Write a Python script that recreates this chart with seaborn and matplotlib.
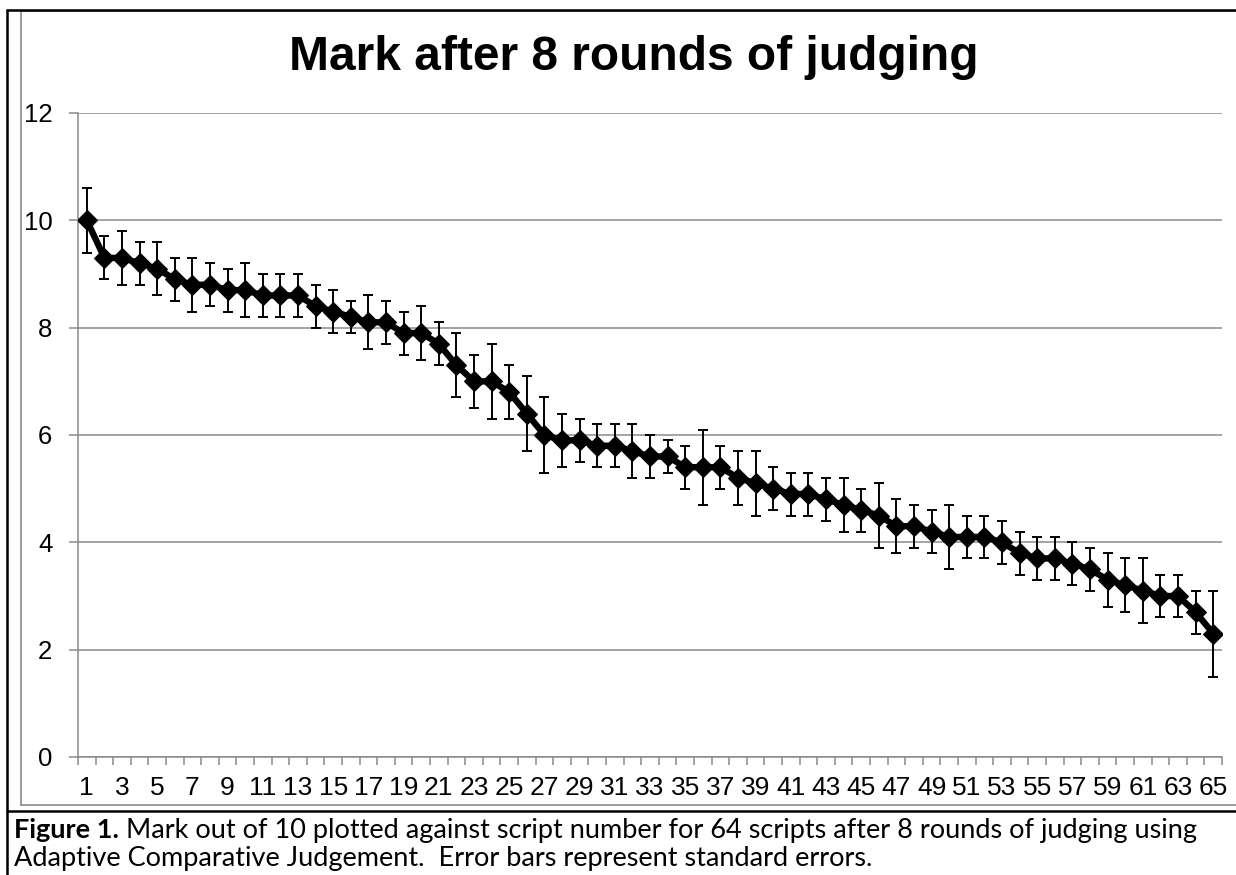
import numpy as np
import pandas as pd
import seaborn as sns
import matplotlib.pyplot as plt
from matplotlib.lines import Line2D

# script number and mark (out of 10) after 8 rounds, with standard errors
script = list(range(1, 66))
mark = [10.0, 9.3, 9.3, 9.2, 9.1, 8.9, 8.8, 8.8, 8.7, 8.7,
        8.6, 8.6, 8.6, 8.4, 8.3, 8.2, 8.1, 8.1, 7.9, 7.9,
        7.7, 7.3, 7.0, 7.0, 6.8, 6.4, 6.0, 5.9, 5.9, 5.8,
        5.8, 5.7, 5.6, 5.6, 5.4, 5.4, 5.4, 5.2, 5.1, 5.0,
        4.9, 4.9, 4.8, 4.7, 4.6, 4.5, 4.3, 4.3, 4.2, 4.1,
        4.1, 4.1, 4.0, 3.8, 3.7, 3.7, 3.6, 3.5, 3.3, 3.2,
        3.1, 3.0, 3.0, 2.7, 2.3]
se = [0.6, 0.4, 0.5, 0.4, 0.5, 0.4, 0.5, 0.4, 0.4, 0.5,
      0.4, 0.4, 0.4, 0.4, 0.4, 0.3, 0.5, 0.4, 0.4, 0.5,
      0.4, 0.6, 0.5, 0.7, 0.5, 0.7, 0.7, 0.5, 0.4, 0.4,
      0.4, 0.5, 0.4, 0.3, 0.4, 0.7, 0.4, 0.5, 0.6, 0.4,
      0.4, 0.4, 0.4, 0.5, 0.4, 0.6, 0.5, 0.4, 0.4, 0.6,
      0.4, 0.4, 0.4, 0.4, 0.4, 0.4, 0.4, 0.4, 0.5, 0.5,
      0.6, 0.4, 0.4, 0.4, 0.8]
yticks = [0, 2, 4, 6, 8, 10, 12]
xlabels = list(range(1, 66, 2))

title = 'Mark after 8 rounds of judging'
caption_bold = 'Figure 1.'
caption_1 = ' Mark out of 10 plotted against script number for 64 scripts after 8 rounds of judging using'
caption_2 = 'Adaptive Comparative Judgement.  Error bars represent standard errors.'

df = pd.DataFrame({'script': script, 'mark': mark, 'se': se})

sns.set_style('white')
plt.rcParams['font.family'] = ['Liberation Sans', 'DejaVu Sans']
plt.rcParams['text.color'] = 'black'
plt.rcParams['xtick.labelcolor'] = 'black'
plt.rcParams['ytick.labelcolor'] = 'black'

W, H = 1236, 875
fig = plt.figure(figsize=(W / 100, H / 100), dpi=100)
ax = fig.add_axes([78 / W, 1 - 757 / H, (1222 - 78) / W, (757 - 113) / H])

grey = '#8a8a8a'

ax.errorbar(df['script'], df['mark'], yerr=df['se'], fmt='none', ecolor='black',
            elinewidth=1.4, capsize=3.8, capthick=1.4, zorder=2)
sns.lineplot(data=df, x='script', y='mark', ax=ax, color='black', linewidth=4.6,
             marker='D', markersize=10.5, markeredgecolor='black', zorder=3)

ax.set_xlim(0.5, 65.5)
ax.set_ylim(0, 12)
ax.set_yticks(yticks)
ax.set_xticks(xlabels)
ax.set_xticks(np.arange(0.5, 66, 1), minor=True)
ax.tick_params(axis='x', which='major', length=0, pad=14, labelsize=19)
ax.tick_params(axis='x', which='minor', length=6, width=1.1, color=grey, direction='out', bottom=True)
ax.tick_params(axis='y', length=6.5, width=1.1, color=grey, direction='out', left=True, pad=12, labelsize=18.5)
ax.set_xlabel('')
ax.set_ylabel('')

ax.yaxis.grid(True, color=grey, linewidth=1.1)
ax.xaxis.grid(False)
ax.set_axisbelow(True)
for s in ['top', 'right']:
    ax.spines[s].set_visible(False)
for s in ['left', 'bottom']:
    ax.spines[s].set_color(grey)
    ax.spines[s].set_linewidth(1.1)

fig.text(634 / W, 1 - 58 / H, title, ha='center', va='center',
         fontsize=34.5, fontweight='bold')


def px_line(x0, y0, x1, y1, **kw):
    fig.add_artist(Line2D([x0 / W, x1 / W], [1 - y0 / H, 1 - y1 / H],
                          transform=fig.transFigure, **kw))


# chart frame and caption box borders
px_line(21, 11, 21, 805, color=grey, linewidth=1.2)
px_line(21, 11, W, 11, color=grey, linewidth=1.2)
px_line(21, 805, W, 805, color=grey, linewidth=1.2)
px_line(7, 10, 7, H, color='black', linewidth=1.8)
px_line(7, 10, W, 10, color='black', linewidth=1.8)
px_line(7, 811, W, 811, color='black', linewidth=1.8)

cap_font = ['Lato', 'DejaVu Sans']
cap_size = 19.5
t1 = fig.text(14 / W, 1 - 838 / H, caption_bold, ha='left', va='baseline',
              fontsize=cap_size, fontweight='bold', family=cap_font)
fig.canvas.draw()
bb = t1.get_window_extent()
fig.text(bb.x1 / W, 1 - 838 / H, caption_1, ha='left', va='baseline',
         fontsize=cap_size, family=cap_font)
fig.text(14 / W, 1 - 866 / H, caption_2, ha='left', va='baseline',
         fontsize=cap_size, family=cap_font)

fig.savefig('out.png', dpi=100)
plt.close(fig)
